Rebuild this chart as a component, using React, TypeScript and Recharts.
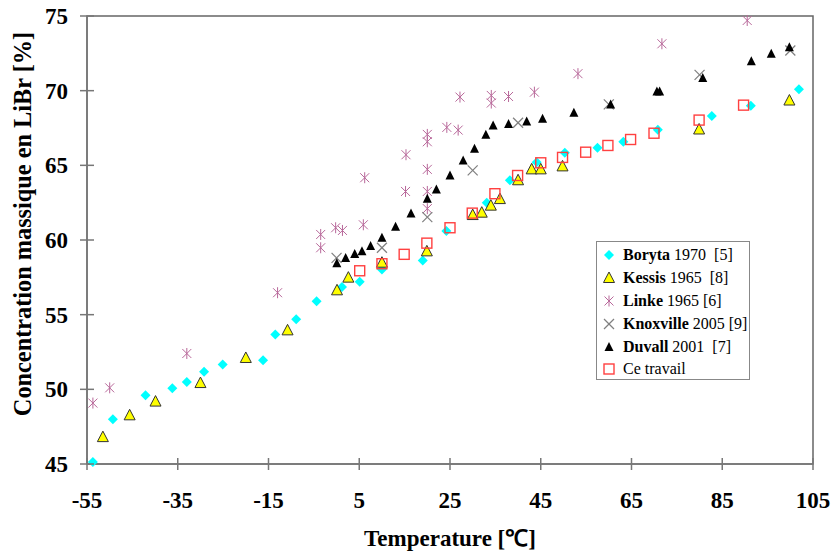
import React from 'react';
import { ScatterChart, Scatter, XAxis, YAxis, ReferenceArea, Legend } from 'recharts';

const xTicks = [-55, -35, -15, 5, 25, 45, 65, 85, 105];
const yTicks = [45, 50, 55, 60, 65, 70, 75];

const borytaT = [-53.7, -49.3, -42.1, -36.2, -33, -29.2, -25.1, -16.2, -13.5, -8.9, -4.4, 1.2, 5.1, 10, 19, 24.2, 33.1, 38.2, 44.1, 50.3, 57.5, 63.2, 70.8, 82.7, 91.3, 101.9];
const borytaC = [45.13, 48.0, 49.6, 50.07, 50.49, 51.18, 51.67, 51.94, 53.68, 54.7, 55.9, 56.85, 57.2, 58.03, 58.63, 60.6, 62.5, 64.0, 65.2, 65.84, 66.18, 66.58, 67.38, 68.3, 68.99, 70.1];

const kessisT = [-51.5, -45.6, -39.9, -30, -20, -10.8, 0.1, 2.6, 10, 19.9, 30, 32, 34, 36, 40, 43, 45, 49.8, 79.9, 99.8];
const kessisC = [46.8, 48.26, 49.18, 50.42, 52.1, 53.95, 56.63, 57.48, 58.48, 59.24, 61.67, 61.83, 62.3, 62.74, 64.0, 64.73, 64.73, 64.93, 67.4, 69.34];

const linkeT = [-53.7, -50, -33, -13, -3.5, -3.5, -0.2, 1.3, 5.9, 6.2, 15.2, 15.3, 20, 20, 20, 20, 20, 24.3, 26.8, 27.2, 34.1, 34.1, 37.9, 43.6, 53.2, 71.7, 90.5];
const linkeC = [49.08, 50.1, 52.4, 56.47, 59.48, 60.37, 60.82, 60.64, 61.02, 64.17, 63.25, 65.71, 62.1, 63.25, 64.73, 66.58, 67.07, 67.54, 67.36, 69.57, 69.68, 69.17, 69.61, 69.9, 71.14, 73.14, 74.7];

const knoxT = [0, 10, 20, 30, 40, 60, 80, 100];
const knoxC = [58.8, 59.48, 61.53, 64.66, 67.85, 69.08, 71.06, 72.69];

const duvallT = [0.06, 2.0, 4.0, 5.6, 7.5, 10, 13, 16.4, 20, 22, 25, 27.9, 30.4, 32.9, 34.5, 37.9, 41.9, 45.4, 52.3, 60.4, 70.6, 71.2, 80.7, 91.4, 95.8, 99.8];
const duvallC = [58.45, 58.8, 59.07, 59.24, 59.59, 60.15, 60.89, 61.77, 62.76, 63.39, 64.32, 65.33, 66.11, 67.05, 67.67, 67.76, 67.94, 68.12, 68.52, 69.08, 69.95, 69.95, 70.84, 71.97, 72.47, 72.91];

const travailT = [5.1, 10, 14.9, 19.9, 25, 29.9, 34.9, 39.9, 45, 49.8, 54.9, 59.8, 64.8, 69.96, 79.9, 89.7];
const travailC = [57.94, 58.41, 59.04, 59.79, 60.82, 61.8, 63.1, 64.32, 65.17, 65.53, 65.88, 66.33, 66.73, 67.15, 68.03, 69.03];

const zip = (t: number[], c: number[]) => t.map((x, i) => ({ x, y: c[i] }));

const SERIF = '"Liberation Serif", "Times New Roman", serif';
const AXIS = '#777';

const Diamond = ({ cx, cy }: any) => (
  <polygon points={`${cx},${cy - 5} ${cx + 5},${cy} ${cx},${cy + 5} ${cx - 5},${cy}`} fill="#00FFFF" />
);
const YTri = ({ cx, cy }: any) => (
  <polygon points={`${cx},${cy - 6} ${cx + 5.5},${cy + 4.5} ${cx - 5.5},${cy + 4.5}`} fill="#FFFF00" stroke="#333" strokeWidth={1} />
);
const BTri = ({ cx, cy }: any) => (
  <polygon points={`${cx},${cy - 5} ${cx + 4.5},${cy + 4} ${cx - 4.5},${cy + 4}`} fill="#000" />
);
const Star = ({ cx, cy }: any) => (
  <g stroke="#B8689A" strokeWidth={1}>
    <line x1={cx} y1={cy - 5.5} x2={cx} y2={cy + 5.5} />
    <line x1={cx - 4.5} y1={cy - 4.5} x2={cx + 4.5} y2={cy + 4.5} />
    <line x1={cx - 4.5} y1={cy + 4.5} x2={cx + 4.5} y2={cy - 4.5} />
  </g>
);
const Cross = ({ cx, cy }: any) => (
  <g stroke="#808080" strokeWidth={1.2}>
    <line x1={cx - 5} y1={cy - 5} x2={cx + 5} y2={cy + 5} />
    <line x1={cx - 5} y1={cy + 5} x2={cx + 5} y2={cy - 5} />
  </g>
);
const Square = ({ cx, cy }: any) => (
  <rect x={cx - 5} y={cy - 5} width={10} height={10} fill="none" stroke="#FF4040" strokeWidth={1.4} />
);

const XTick = ({ x, y, payload }: any) => (
  <g>
    <line x1={x} y1={y - 6} x2={x} y2={y + 6} stroke={AXIS} strokeWidth={1.5} />
    <text x={x} y={y + 44} textAnchor="middle" fontFamily={SERIF} fontWeight="bold" fontSize={23} fill="#000">{payload.value}</text>
  </g>
);
const YTick = ({ x, y, payload }: any) => (
  <g>
    <line x1={x - 7} y1={y} x2={x + 7} y2={y} stroke={AXIS} strokeWidth={1.5} />
    <text x={x - 19} y={y + 8} textAnchor="end" fontFamily={SERIF} fontWeight="bold" fontSize={23} fill="#000">{payload.value}</text>
  </g>
);

const legendItems = [
  { shape: Diamond, bold: 'Boryta', rest: ' 1970  [5]' },
  { shape: YTri, bold: 'Kessis', rest: ' 1965  [8]' },
  { shape: Star, bold: 'Linke', rest: ' 1965 [6]' },
  { shape: Cross, bold: 'Knoxville', rest: ' 2005 [9]' },
  { shape: BTri, bold: 'Duvall', rest: ' 2001  [7]' },
  { shape: Square, bold: '', rest: 'Ce travail' },
];

const LegendBox = () => (
  <div
    style={{
      width: 154,
      height: 139,
      border: '1px solid #888',
      background: '#fff',
      boxSizing: 'border-box',
      fontFamily: SERIF,
      fontSize: 16,
      color: '#000',
      paddingTop: 2,
    }}
  >
    {legendItems.map((it, i) => {
      const S = it.shape;
      return (
        <div key={i} style={{ height: 22.8, display: 'flex', alignItems: 'center', whiteSpace: 'pre' }}>
          <svg width={24} height={22} style={{ flex: 'none' }}>
            <S cx={12} cy={11} />
          </svg>
          <span style={{ marginLeft: 2 }}>
            {it.bold && <b>{it.bold}</b>}
            {it.rest}
          </span>
        </div>
      );
    })}
  </div>
);

export default function App() {
  return (
    <div style={{ position: 'absolute', left: 0, top: 0, background: '#fff' }}>
      <ScatterChart width={832} height={554} margin={{ top: 16, right: 19, bottom: 0, left: 0 }}>
        <XAxis
          type="number"
          dataKey="x"
          domain={[-55, 105]}
          ticks={xTicks}
          height={90}
          tickSize={0}
          tickMargin={0}
          tickLine={false}
          axisLine={{ stroke: AXIS, strokeWidth: 1.5 }}
          tick={<XTick />}
          interval={0}
          label={{
            content: ({ viewBox }: any) => (
              <text x={viewBox.x + viewBox.width / 2} y={546} textAnchor="middle" fontFamily={SERIF} fontWeight="bold" fontSize={23} fill="#000">
                Temperature [℃]
              </text>
            ),
          }}
        />
        <YAxis
          type="number"
          dataKey="y"
          domain={[45, 75]}
          ticks={yTicks}
          width={87}
          tickSize={0}
          tickMargin={0}
          tickLine={false}
          axisLine={{ stroke: AXIS, strokeWidth: 1.5 }}
          tick={<YTick />}
          interval={0}
          label={{
            content: () => (
              <text x={31} y={224} transform="rotate(-90, 31, 224)" textAnchor="middle" fontFamily={SERIF} fontWeight="bold" fontSize={24.3} fill="#000">
                Concentration massique en LiBr [%]
              </text>
            ),
          }}
        />
        <ReferenceArea x1={-55} x2={105} y1={45} y2={75} fill="none" stroke="#666" strokeWidth={1.5} ifOverflow="visible" />
        <Scatter name="Boryta" data={zip(borytaT, borytaC)} shape={(p: any) => <Diamond {...p} />} isAnimationActive={false} />
        <Scatter name="Kessis" data={zip(kessisT, kessisC)} shape={(p: any) => <YTri {...p} />} isAnimationActive={false} />
        <Scatter name="Linke" data={zip(linkeT, linkeC)} shape={(p: any) => <Star {...p} />} isAnimationActive={false} />
        <Scatter name="Knoxville" data={zip(knoxT, knoxC)} shape={(p: any) => <Cross {...p} />} isAnimationActive={false} />
        <Scatter name="Duvall" data={zip(duvallT, duvallC)} shape={(p: any) => <BTri {...p} />} isAnimationActive={false} />
        <Scatter name="Ce travail" data={zip(travailT, travailC)} shape={(p: any) => <Square {...p} />} isAnimationActive={false} />
        <Legend
          layout="horizontal"
          align="center"
          verticalAlign="middle"
          content={() => <LegendBox />}
          wrapperStyle={{ position: 'absolute', left: 596, top: 241, width: 154, height: 139 }}
        />
      </ScatterChart>
    </div>
  );
}
